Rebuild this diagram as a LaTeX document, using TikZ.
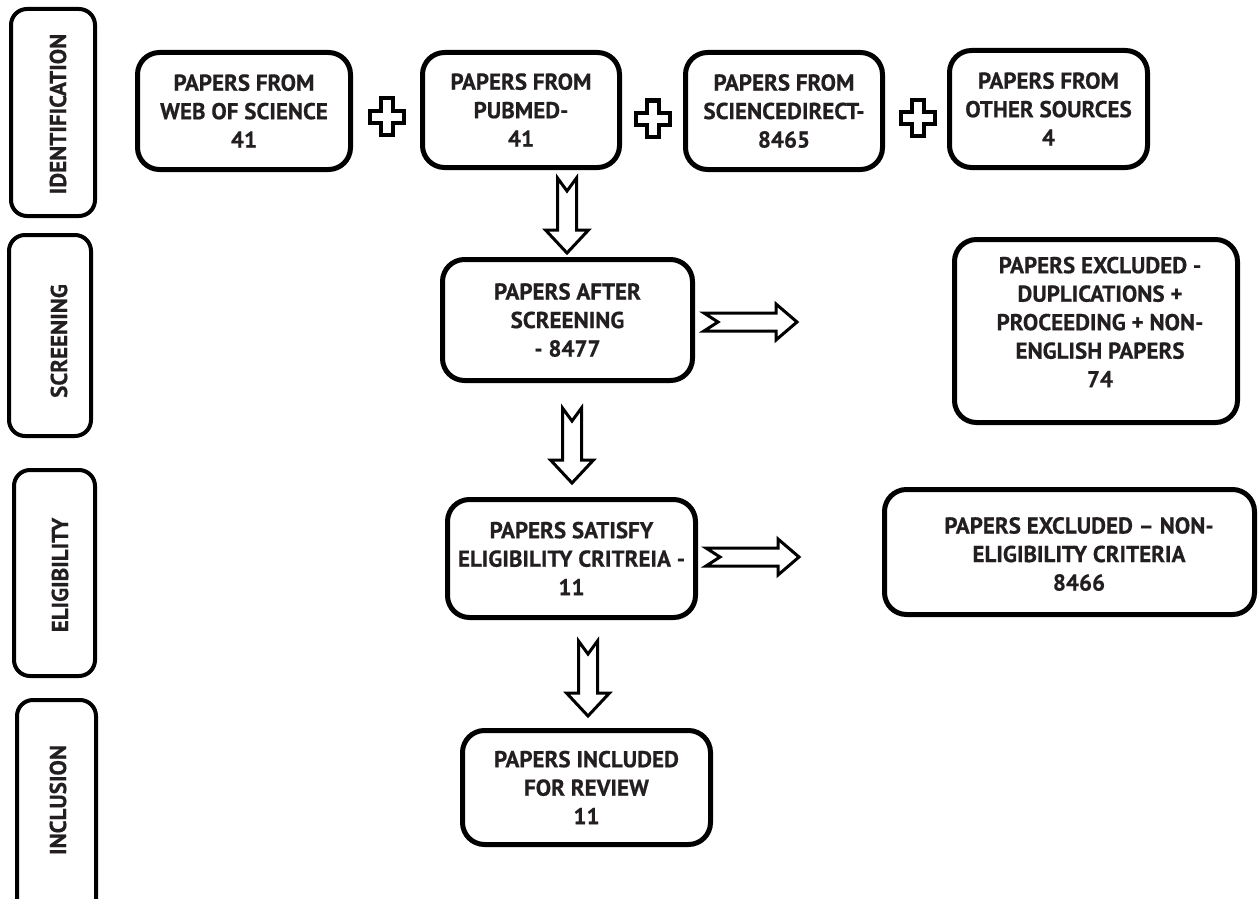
\documentclass[tikz,border=0pt]{standalone}
\usepackage{fontspec}
\setmainfont{PT Sans}[BoldFeatures={FakeBold=0.6}]
\usetikzlibrary{calc}
\definecolor{ink}{HTML}{231F20}
\tikzset{
  box/.style={draw=black, line width=5pt, rounded corners=22pt, align=center,
    text=ink, font=\bfseries\fontsize{23}{28.5}\selectfont, inner sep=0pt},
  stagebox/.style={draw=black, line width=4pt, rounded corners=16pt},
  stagetext/.style={rotate=90, text=ink, font=\bfseries\fontsize{23}{28}\selectfont, inner sep=0pt},
  txt/.style={align=center, text=ink, font=\bfseries\fontsize{23}{28.5}\selectfont, inner sep=0pt},
  blockarrow/.style={draw=black, fill=white, line width=3pt, line join=miter},
  pics/plussign/.style={code={
    \draw[blockarrow, line width=4pt] (-6,-18)--(6,-18)--(6,-6)--(17,-6)--(17,6)--(6,6)--(6,18)--(-6,18)--(-6,6)--(-17,6)--(-17,-6)--(-6,-6)--cycle;}},
  pics/downarr/.style={code={
    \draw[blockarrow] (-9.5,0)--(0,13)--(9.5,0)--(9.5,52)--(21.5,52)--(0,75)--(-21.5,52)--(-9.5,52)--cycle;}},
  pics/rightarr/.style={code={
    \draw[blockarrow] (0,-9)--(72,-9)--(72,-18)--(93,0)--(72,18)--(72,9)--(0,9)--(14,0)--cycle;}}
}
\begin{document}
\begin{tikzpicture}[x=1pt,y=-1pt]
\useasboundingbox (0,0) rectangle (1259,899);
\clip (0,0) rectangle (1259,899);
% stage boxes
\node[stagebox, minimum width=84pt, minimum height=207pt] (sid) at (53,112.5) {};
\node[stagetext] (tid) at (58,114) {IDENTIFICATION};
\node[stagebox, minimum width=82pt, minimum height=201pt] (ssc) at (50,335.5) {};
\node[stagetext] (tsc) at (59,341) {SCREENING};
\node[stagebox, minimum width=81pt, minimum height=206pt] (sel) at (54.5,573) {};
\node[stagetext] (tel) at (60,575) {ELIGIBILITY};
\node[stagebox, minimum width=79pt, minimum height=220pt] (sin) at (56.5,810) {};
\node[stagetext] (tin) at (58,800) {INCLUSION};
% top boxes
\node[box, minimum width=213pt, minimum height=117pt] (wos) at (244,111) {PAPERS FROM\\WEB OF SCIENCE\\41};
\node[box, minimum width=197pt, minimum height=115pt] (pub) at (521,110) {PAPERS FROM\\PUBMED-\\41};
\node[box, minimum width=197pt, minimum height=117pt] (sd) at (784,111) {PAPERS FROM\\SCIENCEDIRECT-\\8465};
\node[box, minimum width=198pt, minimum height=117pt] (oth) at (1048.5,109) {PAPERS FROM\\OTHER SOURCES\\4};
\pic at ($(wos.east)!0.5!(pub.west)+(0,6)$) {plussign};
\pic at ($(pub.east)!0.5!(sd.west)+(0,8)$) {plussign};
\pic at ($(sd.east)!0.5!(oth.west)+(2,8)$) {plussign};
% screening
\node[box, minimum width=250pt, minimum height=121pt] (scr) at (567.5,320) {PAPERS AFTER\\SCREENING\\- 8477};
\node[box, minimum width=283pt, minimum height=183pt] (exc1) at (1096,331) {};
\node[txt] (exc1t) at (1100,322) {PAPERS EXCLUDED -\\DUPLICATIONS +\\PROCEEDING + NON-\\ENGLISH PAPERS\\74};
% eligibility
\node[box, minimum width=248pt, minimum height=118pt] (eli) at (571.5,558.5) {PAPERS SATISFY\\ELIGIBILITY CRITREIA -\\11};
\node[box, minimum width=370pt, minimum height=125pt] (exc2) at (1069.5,552) {};
\node[txt] (exc2t) at (1079,554) {PAPERS EXCLUDED -- NON-\\ELIGIBILITY CRITERIA\\8466};
% inclusion
\node[box, minimum width=248pt, minimum height=114pt] (inc) at (586.5,787.5) {PAPERS INCLUDED\\FOR REVIEW\\11};
% block arrows
\pic at (567,178) {downarr};
\pic at (572,408) {downarr};
\pic at (588,641) {downarr};
\pic at (704,322) {rightarr};
\pic at (706,557) {rightarr};
\end{tikzpicture}
\end{document}
